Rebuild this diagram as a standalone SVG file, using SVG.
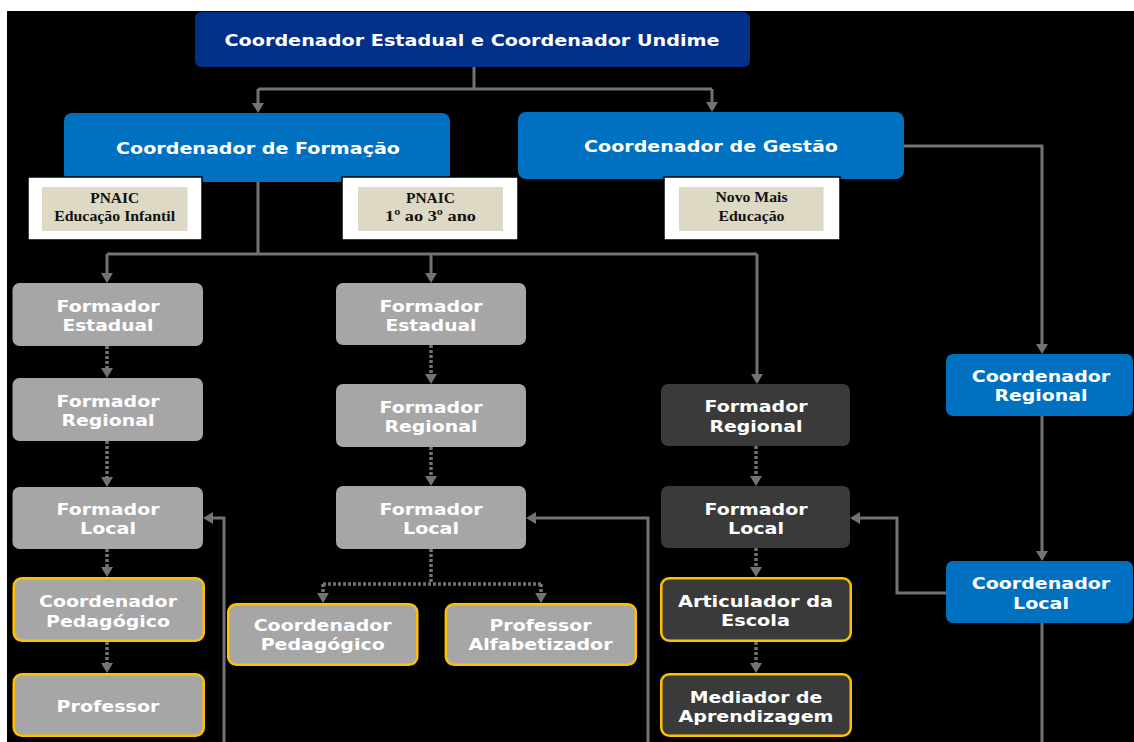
<svg xmlns="http://www.w3.org/2000/svg" width="1134" height="742" viewBox="0 0 1134 742">
<defs>
<style>
.t{font-family:"DejaVu Sans",Verdana,sans-serif;font-weight:bold;font-size:16px;fill:#fff;text-anchor:middle}
.h{font-size:16.5px}
.s{font-family:"Liberation Serif","Times New Roman",serif;font-weight:bold;font-size:15.5px;fill:#111;text-anchor:middle}
.navy{fill:#003087}
.blue{fill:#0070C0}
.gray{fill:#A6A6A6}
.dark{fill:#3A3A3A}
.yb{stroke:#FFC000;stroke-width:2.5}
.lbl{fill:#fff;stroke:#000;stroke-width:1.5}
.tan{fill:#DDD9C4}
.c{fill:none;stroke:#737373;stroke-width:3}
.d{stroke-dasharray:3 2;stroke-width:3.5}
.a{marker-end:url(#ah)}
</style>
<marker id="ah" viewBox="0 0 10 12" refX="0" refY="6" markerWidth="10" markerHeight="12" markerUnits="userSpaceOnUse" orient="auto">
<path d="M0,0 L10,6 L0,12 z" fill="#737373"/>
</marker>
</defs>
<rect x="0" y="0" width="1134" height="742" fill="#fff"/>
<rect x="7" y="11" width="1127" height="731" fill="#000"/>

<g id="connectors">
<path class="c" d="M474,67 V89 M258,89 H712"/>
<path class="c a" d="M258,89 V103"/>
<path class="c a" d="M712,89 V102"/>
<path class="c" d="M258,182 V254 M107,254 H757"/>
<path class="c a" d="M107,254 V273"/>
<path class="c a" d="M431,254 V273"/>
<path class="c a" d="M757,254 V374"/>
<path class="c a" d="M904,146 H1042 V344"/>
<path class="c a" d="M1042,416 V551"/>
<path class="c" d="M1042,623 V742"/>
<path class="c d a" d="M107,346 V368"/>
<path class="c d a" d="M107,441 V477"/>
<path class="c d a" d="M107,549 V567"/>
<path class="c d a" d="M107,642 V663"/>
<path class="c d a" d="M431,345 V374"/>
<path class="c d a" d="M431,447 V476"/>
<path class="c d" d="M431,549 V584 M323,584 H541"/>
<path class="c d a" d="M323,584 V593"/>
<path class="c d a" d="M541,584 V593"/>
<path class="c d a" d="M756,446 V476"/>
<path class="c d a" d="M756,548 V567"/>
<path class="c d a" d="M756,642 V663"/>
<path class="c a" d="M224,742 V518 H213"/>
<path class="c a" d="M648,742 V518 H536"/>
<path class="c a" d="M946,593 H897 V518 H860"/>
</g>

<g id="coord-estadual">
<rect class="navy" x="195" y="12" width="555" height="55" rx="6"/>
<text class="t" x="472" y="45.5" style="font-size:15.5px" textLength="495" lengthAdjust="spacingAndGlyphs">Coordenador Estadual e Coordenador Undime</text>
</g>
<g id="coord-formacao">
<rect class="blue" x="64" y="113" width="386" height="69" rx="8"/>
<text class="t h" x="258" y="154" textLength="284" lengthAdjust="spacingAndGlyphs">Coordenador de Formação</text>
</g>
<g id="coord-gestao">
<rect class="blue" x="518" y="112" width="386" height="67" rx="8"/>
<text class="t h" x="711" y="151.5" textLength="254" lengthAdjust="spacingAndGlyphs">Coordenador de Gestão</text>
</g>
<g id="lbl-pnaic-ei">
<rect class="lbl" x="28" y="177" width="174" height="63"/>
<rect class="tan" x="42" y="187" width="145.5" height="44"/>
<text class="s" x="114.7" y="202.5" textLength="49" lengthAdjust="spacingAndGlyphs">PNAIC</text>
<text class="s" x="114.7" y="220.7" textLength="121" lengthAdjust="spacingAndGlyphs">Educação Infantil</text>
</g>
<g id="lbl-pnaic-13">
<rect class="lbl" x="342" y="177" width="176" height="63"/>
<rect class="tan" x="358" y="187" width="145" height="44"/>
<text class="s" x="430.5" y="202.5" textLength="49" lengthAdjust="spacingAndGlyphs">PNAIC</text>
<text class="s" x="430.5" y="220.7" textLength="91" lengthAdjust="spacingAndGlyphs">1º ao 3º ano</text>
</g>
<g id="lbl-novo-mais">
<rect class="lbl" x="664" y="177" width="176" height="63"/>
<rect class="tan" x="679" y="187" width="144.5" height="44"/>
<text class="s" x="751.5" y="202" textLength="72" lengthAdjust="spacingAndGlyphs">Novo Mais</text>
<text class="s" x="751.5" y="220.7" textLength="66" lengthAdjust="spacingAndGlyphs">Educação</text>
</g>

<g id="fe1">
<rect class="gray" x="12.5" y="283" width="190.5" height="63" rx="7"/>
<text class="t" x="108" y="311.7" textLength="103" lengthAdjust="spacingAndGlyphs">Formador</text>
<text class="t" x="108" y="331" textLength="91" lengthAdjust="spacingAndGlyphs">Estadual</text>
</g>
<g id="fr1">
<rect class="gray" x="12.5" y="378" width="190.5" height="63" rx="7"/>
<text class="t" x="108" y="406.7" textLength="103" lengthAdjust="spacingAndGlyphs">Formador</text>
<text class="t" x="108" y="426" textLength="93" lengthAdjust="spacingAndGlyphs">Regional</text>
</g>
<g id="fl1">
<rect class="gray" x="12.5" y="487" width="190.5" height="62" rx="7"/>
<text class="t" x="108" y="515" textLength="103" lengthAdjust="spacingAndGlyphs">Formador</text>
<text class="t" x="108" y="534.3" textLength="56" lengthAdjust="spacingAndGlyphs">Local</text>
</g>
<g id="cp1">
<rect class="gray yb" x="13.75" y="578.25" width="190" height="62.5" rx="8"/>
<text class="t" x="108" y="607.3" textLength="138" lengthAdjust="spacingAndGlyphs">Coordenador</text>
<text class="t" x="108" y="626.7" textLength="124" lengthAdjust="spacingAndGlyphs">Pedagógico</text>
</g>
<g id="p1">
<rect class="gray yb" x="13.75" y="674.25" width="190" height="61.5" rx="8"/>
<text class="t" x="108" y="712.3" textLength="103" lengthAdjust="spacingAndGlyphs">Professor</text>
</g>

<g id="fe2">
<rect class="gray" x="336" y="283" width="190" height="62" rx="7"/>
<text class="t" x="431" y="311.7" textLength="103" lengthAdjust="spacingAndGlyphs">Formador</text>
<text class="t" x="431" y="331" textLength="91" lengthAdjust="spacingAndGlyphs">Estadual</text>
</g>
<g id="fr2">
<rect class="gray" x="336" y="384" width="190" height="63" rx="7"/>
<text class="t" x="431" y="412.7" textLength="103" lengthAdjust="spacingAndGlyphs">Formador</text>
<text class="t" x="431" y="432" textLength="93" lengthAdjust="spacingAndGlyphs">Regional</text>
</g>
<g id="fl2">
<rect class="gray" x="336" y="486" width="190" height="63" rx="7"/>
<text class="t" x="431" y="515" textLength="103" lengthAdjust="spacingAndGlyphs">Formador</text>
<text class="t" x="431" y="534.3" textLength="56" lengthAdjust="spacingAndGlyphs">Local</text>
</g>
<g id="cp2">
<rect class="gray yb" x="228.25" y="604.25" width="189" height="60.5" rx="8"/>
<text class="t" x="322.7" y="630.5" textLength="138" lengthAdjust="spacingAndGlyphs">Coordenador</text>
<text class="t" x="322.7" y="650" textLength="124" lengthAdjust="spacingAndGlyphs">Pedagógico</text>
</g>
<g id="pa">
<rect class="gray yb" x="445.85" y="604.25" width="190" height="60.5" rx="8"/>
<text class="t" x="540.5" y="630.5" textLength="102" lengthAdjust="spacingAndGlyphs">Professor</text>
<text class="t" x="540.5" y="650" textLength="144" lengthAdjust="spacingAndGlyphs">Alfabetizador</text>
</g>

<g id="fr3">
<rect class="dark" x="661" y="384" width="189" height="62" rx="7"/>
<text class="t" x="756" y="412.2" textLength="103" lengthAdjust="spacingAndGlyphs">Formador</text>
<text class="t" x="756" y="431.5" textLength="93" lengthAdjust="spacingAndGlyphs">Regional</text>
</g>
<g id="fl3">
<rect class="dark" x="661" y="486" width="189" height="62" rx="7"/>
<text class="t" x="756" y="514.5" textLength="103" lengthAdjust="spacingAndGlyphs">Formador</text>
<text class="t" x="756" y="533.8" textLength="56" lengthAdjust="spacingAndGlyphs">Local</text>
</g>
<g id="ae">
<rect class="dark yb" x="661.25" y="578.25" width="189.5" height="62.5" rx="8"/>
<text class="t" x="755.5" y="606.7" textLength="155" lengthAdjust="spacingAndGlyphs">Articulador da</text>
<text class="t" x="755.5" y="626" textLength="69" lengthAdjust="spacingAndGlyphs">Escola</text>
</g>
<g id="ma">
<rect class="dark yb" x="661.25" y="674.25" width="189.5" height="61.5" rx="8"/>
<text class="t" x="756" y="703.3" textLength="132.5" lengthAdjust="spacingAndGlyphs">Mediador de</text>
<text class="t" x="756" y="721.7" textLength="155" lengthAdjust="spacingAndGlyphs">Aprendizagem</text>
</g>

<g id="cr">
<rect class="blue" x="946" y="354" width="187" height="62" rx="7"/>
<text class="t" x="1041" y="381.5" textLength="138.5" lengthAdjust="spacingAndGlyphs">Coordenador</text>
<text class="t" x="1041" y="400.7" textLength="93" lengthAdjust="spacingAndGlyphs">Regional</text>
</g>
<g id="cl">
<rect class="blue" x="946" y="561" width="187" height="62" rx="7"/>
<text class="t" x="1041" y="589" textLength="138.5" lengthAdjust="spacingAndGlyphs">Coordenador</text>
<text class="t" x="1041" y="608.5" textLength="56" lengthAdjust="spacingAndGlyphs">Local</text>
</g>
</svg>
